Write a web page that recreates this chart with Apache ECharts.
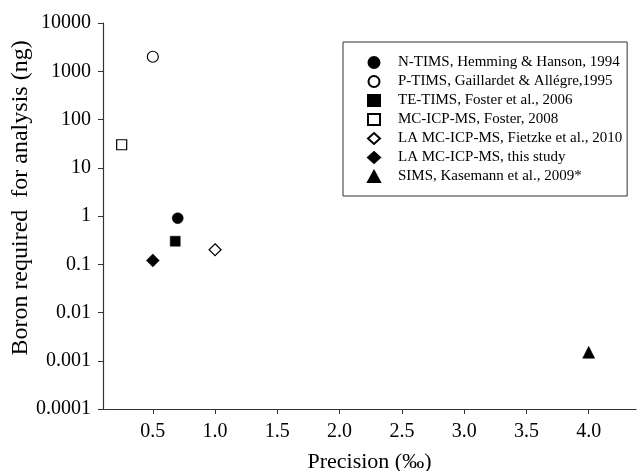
<!DOCTYPE html>
<html>
<head>
<meta charset="utf-8">
<script src="https://cdn.jsdelivr.net/npm/echarts@6/dist/echarts.min.js"></script>
<style>
  html, body { margin: 0; padding: 0; background: #fff; }
  #chart { width: 638px; height: 471px; }
</style>
</head>
<body>
<div id="chart"></div>
<script>
// Data
const seriesNames = [
  'N-TIMS, Hemming & Hanson, 1994',
  'P-TIMS, Gaillardet & Allégre,1995',
  'TE-TIMS, Foster et al., 2006',
  'MC-ICP-MS, Foster, 2008',
  'LA MC-ICP-MS, Fietzke et al., 2010',
  'LA MC-ICP-MS, this study',
  'SIMS, Kasemann et al., 2009*'
];
const precision = [0.7, 0.5, 0.68, 0.25, 1.0, 0.5, 4.0];   // per mil
const boronNg = [0.9, 2000, 0.3, 30, 0.2, 0.12, 0.0015];    // ng
const xTicks = [0.5, 1.0, 1.5, 2.0, 2.5, 3.0, 3.5, 4.0];
const yTicks = [0.0001, 0.001, 0.01, 0.1, 1, 10, 100, 1000, 10000];

// Marker look for each series (shape, filled or hollow, size)
const markers = [
  { symbol: 'circle', filled: true, size: 11 },
  { symbol: 'circle', filled: false, size: 11 },
  { symbol: 'rect', filled: true, size: 10 },
  { symbol: 'rect', filled: false, size: 10 },
  { symbol: 'diamond', filled: false, size: 12 },
  { symbol: 'diamond', filled: true, size: 13 },
  { symbol: 'triangle', filled: true, size: 12 }
];

const serif = '"Liberation Serif", "Times New Roman", serif';
const ink = '#000';

const chart = echarts.init(document.getElementById('chart'), null, { renderer: 'canvas' });

const series = seriesNames.map((name, i) => {
  const m = markers[i];
  return {
    name: name,
    type: 'scatter',
    symbol: m.symbol,
    symbolSize: m.size,
    data: [[precision[i], boronNg[i]]],
    itemStyle: m.filled
      ? { color: ink, borderColor: ink, borderWidth: 0.5, opacity: 1 }
      : { color: '#fff', borderColor: ink, borderWidth: 1.2, opacity: 1 },
    emphasis: { disabled: true }
  };
});

const option = {
  backgroundColor: '#fff',
  animation: false,
  grid: { left: 103, right: 2, top: 23, bottom: 62, outerBoundsMode: 'none', containLabel: false },
  legend: {
    orient: 'vertical',
    left: 343,
    top: 42,
    padding: [13, 5, 12, 24],
    itemWidth: 12,
    itemHeight: 11,
    itemGap: 4,
    symbolKeepAspect: true,
    borderColor: '#333',
    borderWidth: 1,
    textStyle: { fontFamily: serif, fontSize: 15, lineHeight: 15, color: ink, padding: [0, 0, 0, 13] },
    data: seriesNames
  },
  xAxis: {
    type: 'value',
    min: 0.1,
    max: 4.38,
    name: 'Precision (‰)',
    nameLocation: 'middle',
    nameGap: 42,
    nameMoveOverlap: false,
    nameTextStyle: { fontFamily: serif, fontSize: 22, color: ink },
    axisLine: { lineStyle: { color: '#333', width: 1.2 } },
    axisTick: { customValues: xTicks, length: 5, lineStyle: { color: '#333' } },
    axisLabel: {
      customValues: xTicks,
      margin: 13,
      fontFamily: serif,
      fontSize: 20,
      color: ink,
      formatter: v => v.toFixed(1)
    },
    splitLine: { show: false }
  },
  yAxis: {
    type: 'log',
    logBase: 10,
    min: 0.0001,
    max: 10000,
    name: 'Boron required  for analysis (ng)',
    nameLocation: 'middle',
    nameGap: 70,
    nameMoveOverlap: false,
    nameTextStyle: { fontFamily: serif, fontSize: 24, color: ink, padding: [0, 0, 0, 36] },
    axisLine: { show: true, lineStyle: { color: '#333', width: 1.2 } },
    axisTick: { customValues: yTicks, length: 5, lineStyle: { color: '#333' } },
    axisLabel: {
      customValues: yTicks,
      margin: 12,
      fontFamily: serif,
      fontSize: 20,
      color: ink,
      formatter: v => String(+Number(v).toPrecision(1))
    },
    splitLine: { show: false }
  },
  series: series
};

chart.setOption(option);
</script>
</body>
</html>
